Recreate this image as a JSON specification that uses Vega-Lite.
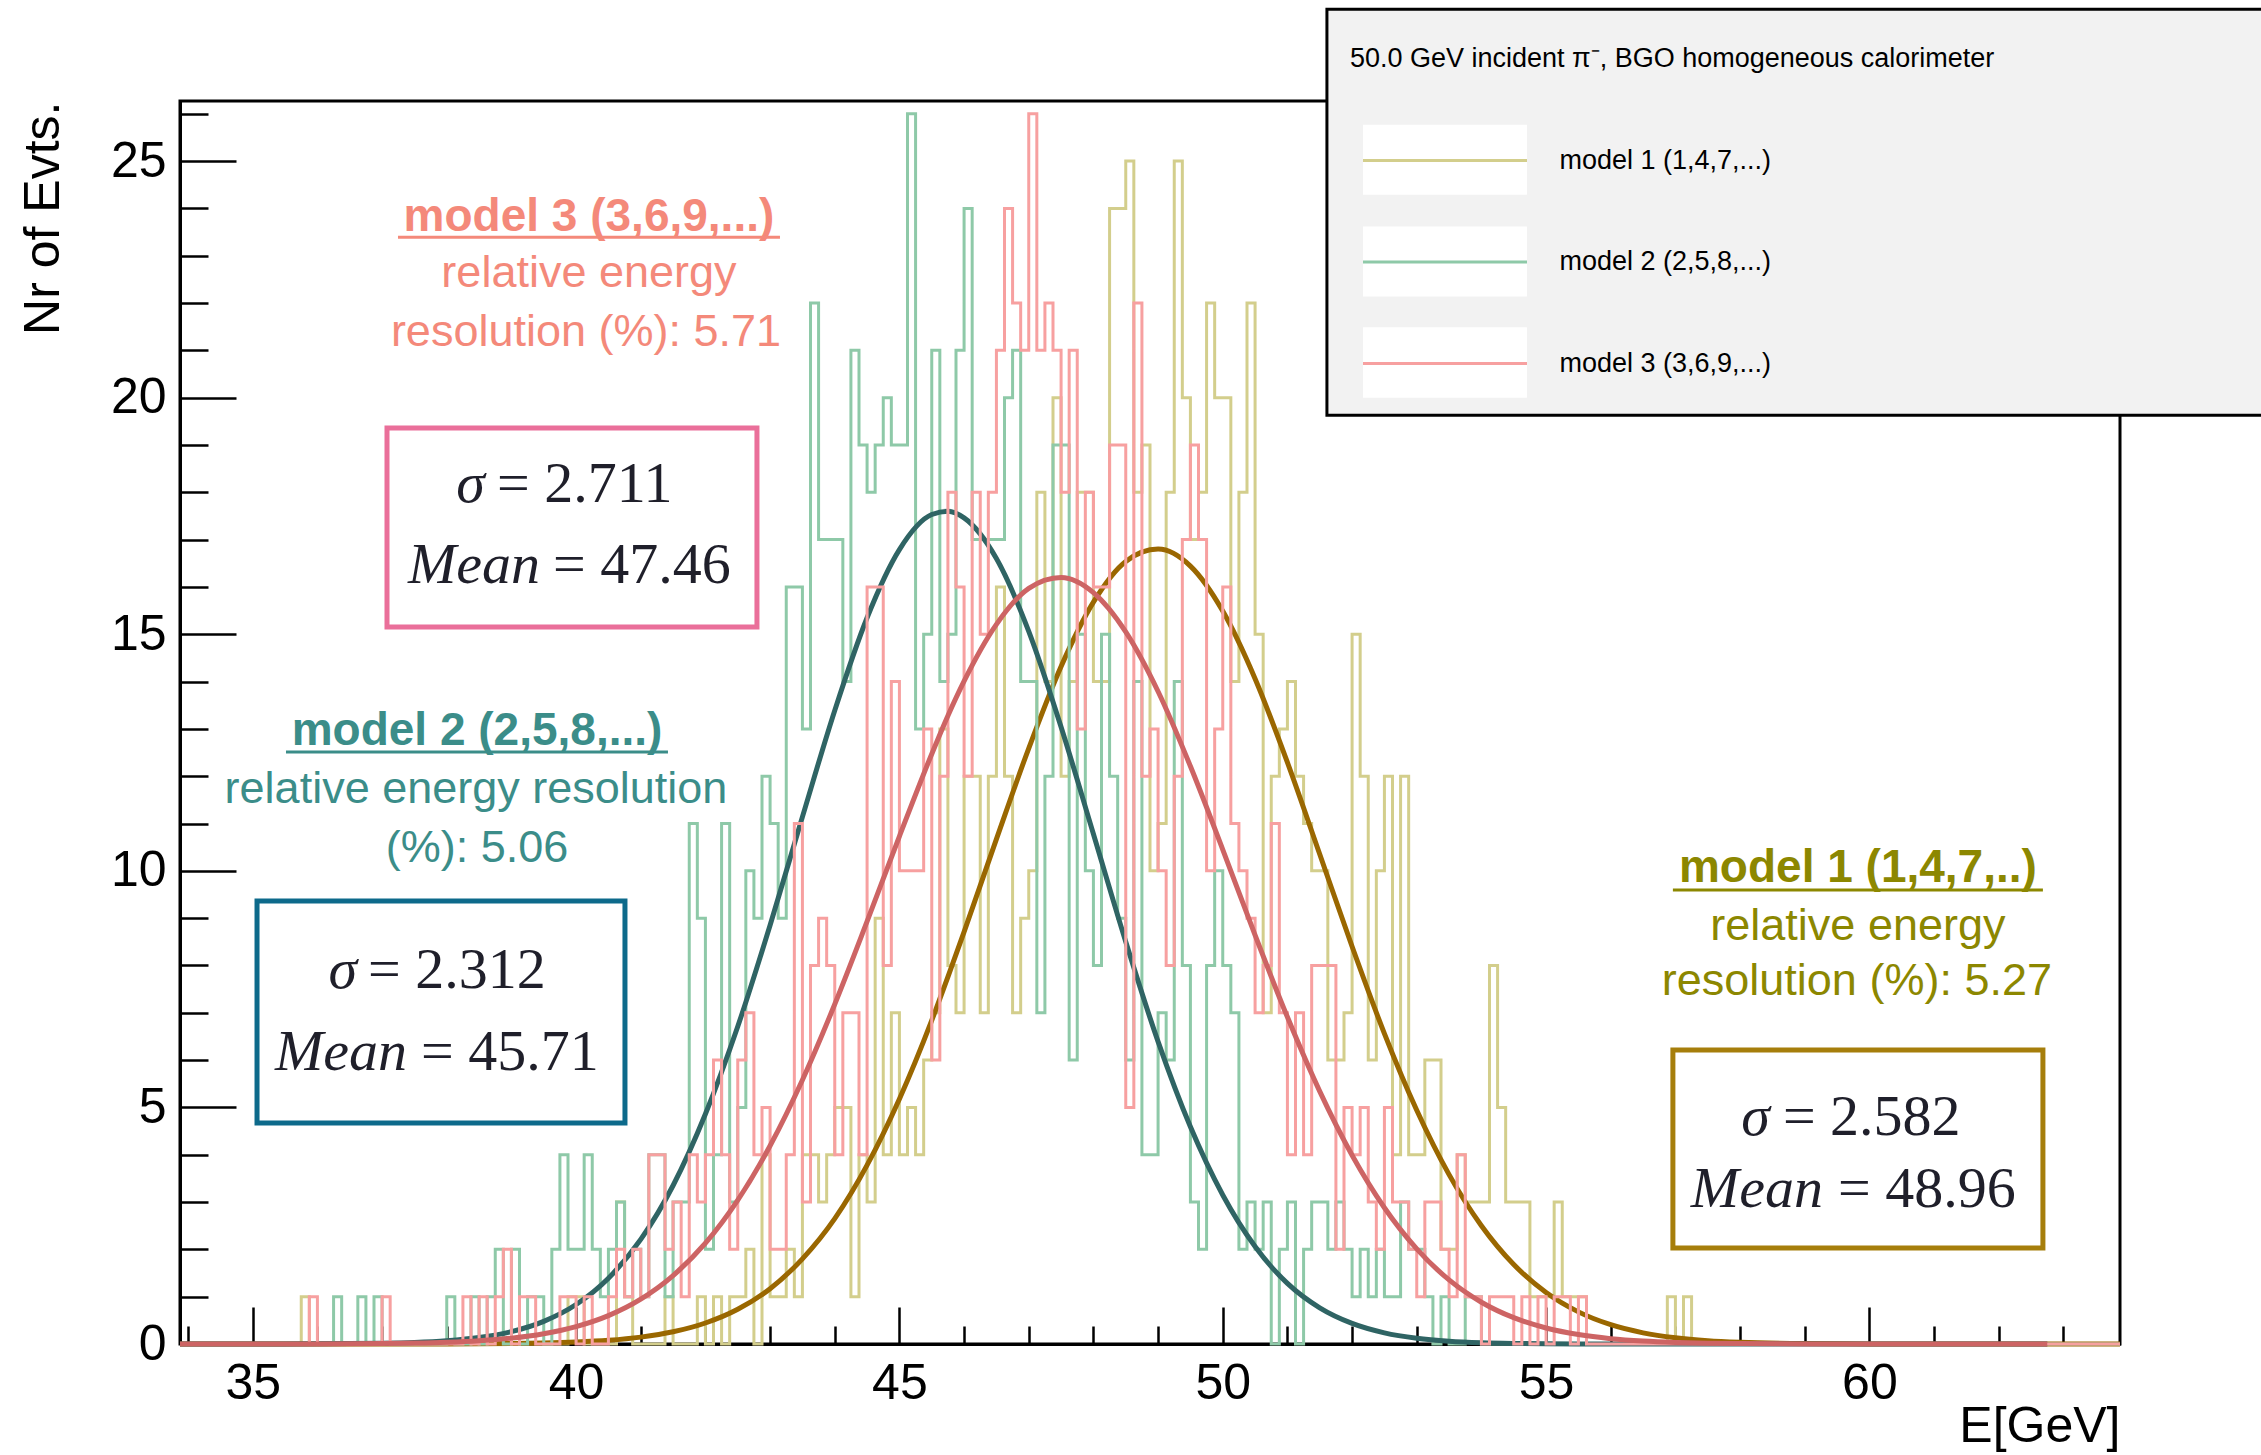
{
"$schema":"https://vega.github.io/schema/vega-lite/v6.json",
"width":1940,"height":1243,
"autosize":{"type":"none"},
"padding":{"left":180,"top":101,"right":141,"bottom":111},
"background":"white",
"config":{
 "view":{"stroke":"black","strokeWidth":3},
 "axis":{"grid":false,"domainColor":"black","domainWidth":3,"tickColor":"black","tickWidth":2.5,"labelColor":"black","labelFont":"Liberation Sans","labelFontSize":50,"titleFont":"Liberation Sans","titleFontSize":50,"titleFontWeight":"normal","titleColor":"black","labelFlush":false,"labelOverlap":false},
 "legend":{"orient":"none","legendX":1181.5,"legendY":-24,"symbolType":"stroke","symbolSize":26896,"symbolStrokeWidth":3,"labelFont":"Liberation Sans","labelFontSize":27,"labelColor":"black","labelOffset":31,"rowPadding":4.5,"padding":0,"labelLimit":600}
},
"datasets":{
"hist":[
{"E":33.875,"m1":0,"m2":0,"m3":0},{"E":34,"m1":0,"m2":0,"m3":0},{"E":34.125,"m1":0,"m2":0,"m3":0},{"E":34.25,"m1":0,"m2":0,"m3":0},{"E":34.375,"m1":0,"m2":0,"m3":0},{"E":34.5,"m1":0,"m2":0,"m3":0},{"E":34.625,"m1":0,"m2":0,"m3":0},{"E":34.75,"m1":0,"m2":0,"m3":0},{"E":34.875,"m1":0,"m2":0,"m3":0},{"E":35,"m1":0,"m2":0,"m3":0},
{"E":35.125,"m1":0,"m2":0,"m3":0},{"E":35.25,"m1":0,"m2":0,"m3":0},{"E":35.375,"m1":0,"m2":0,"m3":0},{"E":35.5,"m1":0,"m2":0,"m3":0},{"E":35.625,"m1":0,"m2":0,"m3":0},{"E":35.75,"m1":1,"m2":0,"m3":0},{"E":35.875,"m1":0,"m2":0,"m3":1},{"E":36,"m1":0,"m2":0,"m3":0},{"E":36.125,"m1":0,"m2":0,"m3":0},{"E":36.25,"m1":0,"m2":1,"m3":0},
{"E":36.375,"m1":0,"m2":0,"m3":0},{"E":36.5,"m1":0,"m2":0,"m3":0},{"E":36.625,"m1":0,"m2":1,"m3":0},{"E":36.75,"m1":0,"m2":0,"m3":0},{"E":36.875,"m1":0,"m2":1,"m3":0},{"E":37,"m1":0,"m2":0,"m3":1},{"E":37.125,"m1":0,"m2":0,"m3":0},{"E":37.25,"m1":0,"m2":0,"m3":0},{"E":37.375,"m1":0,"m2":0,"m3":0},{"E":37.5,"m1":0,"m2":0,"m3":0},
{"E":37.625,"m1":0,"m2":0,"m3":0},{"E":37.75,"m1":0,"m2":0,"m3":0},{"E":37.875,"m1":0,"m2":0,"m3":0},{"E":38,"m1":0,"m2":1,"m3":0},{"E":38.125,"m1":0,"m2":0,"m3":0},{"E":38.25,"m1":0,"m2":0,"m3":1},{"E":38.375,"m1":0,"m2":1,"m3":0},{"E":38.5,"m1":0,"m2":0,"m3":1},{"E":38.625,"m1":0,"m2":1,"m3":0},{"E":38.75,"m1":0,"m2":2,"m3":1},
{"E":38.875,"m1":0,"m2":0,"m3":2},{"E":39,"m1":0,"m2":2,"m3":0},{"E":39.125,"m1":0,"m2":0,"m3":1},{"E":39.25,"m1":0,"m2":1,"m3":1},{"E":39.375,"m1":0,"m2":1,"m3":0},{"E":39.5,"m1":0,"m2":0,"m3":0},{"E":39.625,"m1":0,"m2":2,"m3":0},{"E":39.75,"m1":0,"m2":4,"m3":1},{"E":39.875,"m1":1,"m2":2,"m3":1},{"E":40,"m1":1,"m2":2,"m3":0},
{"E":40.125,"m1":0,"m2":4,"m3":1},{"E":40.25,"m1":0,"m2":2,"m3":0},{"E":40.375,"m1":0,"m2":1,"m3":0},{"E":40.5,"m1":0,"m2":2,"m3":1},{"E":40.625,"m1":3,"m2":3,"m3":2},{"E":40.75,"m1":1,"m2":1,"m3":1},{"E":40.875,"m1":0,"m2":2,"m3":2},{"E":41,"m1":0,"m2":1,"m3":1},{"E":41.125,"m1":0,"m2":4,"m3":4},{"E":41.25,"m1":0,"m2":4,"m3":4},
{"E":41.375,"m1":1,"m2":1,"m3":2},{"E":41.5,"m1":0,"m2":3,"m3":3},{"E":41.625,"m1":0,"m2":3,"m3":1},{"E":41.75,"m1":0,"m2":11,"m3":4},{"E":41.875,"m1":1,"m2":9,"m3":3},{"E":42,"m1":0,"m2":2,"m3":4},{"E":42.125,"m1":1,"m2":4,"m3":6},{"E":42.25,"m1":0,"m2":11,"m3":4},{"E":42.375,"m1":1,"m2":3,"m3":2},{"E":42.5,"m1":1,"m2":5,"m3":6},
{"E":42.625,"m1":2,"m2":10,"m3":7},{"E":42.75,"m1":0,"m2":9,"m3":4},{"E":42.875,"m1":4,"m2":12,"m3":5},{"E":43,"m1":1,"m2":11,"m3":2},{"E":43.125,"m1":1,"m2":9,"m3":2},{"E":43.25,"m1":2,"m2":16,"m3":4},{"E":43.375,"m1":1,"m2":16,"m3":11},{"E":43.5,"m1":4,"m2":13,"m3":3},{"E":43.625,"m1":4,"m2":22,"m3":8},{"E":43.75,"m1":3,"m2":17,"m3":9},
{"E":43.875,"m1":4,"m2":17,"m3":8},{"E":44,"m1":5,"m2":17,"m3":4},{"E":44.125,"m1":5,"m2":14,"m3":7},{"E":44.25,"m1":1,"m2":21,"m3":7},{"E":44.375,"m1":4,"m2":19,"m3":4},{"E":44.5,"m1":3,"m2":18,"m3":16},{"E":44.625,"m1":9,"m2":19,"m3":16},{"E":44.75,"m1":4,"m2":20,"m3":8},{"E":44.875,"m1":7,"m2":19,"m3":14},{"E":45,"m1":4,"m2":19,"m3":10},
{"E":45.125,"m1":5,"m2":26,"m3":10},{"E":45.25,"m1":4,"m2":13,"m3":10},{"E":45.375,"m1":6,"m2":15,"m3":13},{"E":45.5,"m1":7,"m2":21,"m3":6},{"E":45.625,"m1":13,"m2":14,"m3":12},{"E":45.75,"m1":8,"m2":15,"m3":18},{"E":45.875,"m1":7,"m2":21,"m3":16},{"E":46,"m1":12,"m2":24,"m3":12},{"E":46.125,"m1":12,"m2":17,"m3":18},{"E":46.25,"m1":7,"m2":17,"m3":15},
{"E":46.375,"m1":12,"m2":17,"m3":18},{"E":46.5,"m1":16,"m2":17,"m3":21},{"E":46.625,"m1":12,"m2":20,"m3":24},{"E":46.75,"m1":7,"m2":21,"m3":22},{"E":46.875,"m1":9,"m2":14,"m3":21},{"E":47,"m1":10,"m2":14,"m3":26},{"E":47.125,"m1":18,"m2":7,"m3":21},{"E":47.25,"m1":14,"m2":12,"m3":22},{"E":47.375,"m1":20,"m2":19,"m3":21},{"E":47.5,"m1":12,"m2":19,"m3":18},
{"E":47.625,"m1":14,"m2":6,"m3":21},{"E":47.75,"m1":18,"m2":15,"m3":13},{"E":47.875,"m1":18,"m2":10,"m3":18},{"E":48,"m1":14,"m2":8,"m3":16},{"E":48.125,"m1":14,"m2":15,"m3":16},{"E":48.25,"m1":24,"m2":12,"m3":19},{"E":48.375,"m1":24,"m2":9,"m3":19},{"E":48.5,"m1":25,"m2":6,"m3":5},{"E":48.625,"m1":18,"m2":14,"m3":22},{"E":48.75,"m1":19,"m2":4,"m3":12},
{"E":48.875,"m1":10,"m2":4,"m3":13},{"E":49,"m1":11,"m2":7,"m3":10},{"E":49.125,"m1":18,"m2":6,"m3":8},{"E":49.25,"m1":25,"m2":14,"m3":12},{"E":49.375,"m1":20,"m2":8,"m3":17},{"E":49.5,"m1":17,"m2":3,"m3":19},{"E":49.625,"m1":18,"m2":2,"m3":17},{"E":49.75,"m1":22,"m2":8,"m3":10},{"E":49.875,"m1":20,"m2":10,"m3":13},{"E":50,"m1":20,"m2":8,"m3":16},
{"E":50.125,"m1":14,"m2":7,"m3":11},{"E":50.25,"m1":18,"m2":2,"m3":10},{"E":50.375,"m1":22,"m2":3,"m3":9},{"E":50.5,"m1":15,"m2":2,"m3":7},{"E":50.625,"m1":7,"m2":3,"m3":8},{"E":50.75,"m1":12,"m2":0,"m3":11},{"E":50.875,"m1":13,"m2":2,"m3":7},{"E":51,"m1":14,"m2":3,"m3":4},{"E":51.125,"m1":12,"m2":0,"m3":7},{"E":51.25,"m1":11,"m2":2,"m3":4},
{"E":51.375,"m1":10,"m2":3,"m3":8},{"E":51.5,"m1":10,"m2":3,"m3":8},{"E":51.625,"m1":6,"m2":2,"m3":8},{"E":51.75,"m1":6,"m2":3,"m3":2},{"E":51.875,"m1":7,"m2":2,"m3":5},{"E":52,"m1":15,"m2":1,"m3":4},{"E":52.125,"m1":12,"m2":2,"m3":5},{"E":52.25,"m1":6,"m2":1,"m3":3},{"E":52.375,"m1":10,"m2":2,"m3":2},{"E":52.5,"m1":12,"m2":1,"m3":5},
{"E":52.625,"m1":4,"m2":1,"m3":3},{"E":52.75,"m1":12,"m2":3,"m3":3},{"E":52.875,"m1":4,"m2":2,"m3":2},{"E":53,"m1":4,"m2":2,"m3":1},{"E":53.125,"m1":6,"m2":1,"m3":3},{"E":53.25,"m1":6,"m2":0,"m3":3},{"E":53.375,"m1":2,"m2":1,"m3":2},{"E":53.5,"m1":2,"m2":0,"m3":1},{"E":53.625,"m1":4,"m2":0,"m3":4},{"E":53.75,"m1":3,"m2":1,"m3":1},
{"E":53.875,"m1":3,"m2":1,"m3":1},{"E":54,"m1":3,"m2":0,"m3":0},{"E":54.125,"m1":8,"m2":0,"m3":1},{"E":54.25,"m1":5,"m2":0,"m3":1},{"E":54.375,"m1":3,"m2":0,"m3":1},{"E":54.5,"m1":3,"m2":0,"m3":0},{"E":54.625,"m1":3,"m2":0,"m3":1},{"E":54.75,"m1":1,"m2":0,"m3":0},{"E":54.875,"m1":1,"m2":0,"m3":1},{"E":55,"m1":1,"m2":0,"m3":0},
{"E":55.125,"m1":3,"m2":0,"m3":1},{"E":55.25,"m1":1,"m2":0,"m3":1},{"E":55.375,"m1":1,"m2":0,"m3":0},{"E":55.5,"m1":1,"m2":0,"m3":1},{"E":55.625,"m1":0,"m2":0,"m3":0},{"E":55.75,"m1":0,"m2":0,"m3":0},{"E":55.875,"m1":0,"m2":0,"m3":0},{"E":56,"m1":0,"m2":0,"m3":0},{"E":56.125,"m1":0,"m2":0,"m3":0},{"E":56.25,"m1":0,"m2":0,"m3":0},
{"E":56.375,"m1":0,"m2":0,"m3":0},{"E":56.5,"m1":0,"m2":0,"m3":0},{"E":56.625,"m1":0,"m2":0,"m3":0},{"E":56.75,"m1":0,"m2":0,"m3":0},{"E":56.875,"m1":1,"m2":0,"m3":0},{"E":57,"m1":0,"m2":0,"m3":0},{"E":57.125,"m1":1,"m2":0,"m3":0},{"E":57.25,"m1":0,"m2":0,"m3":0},{"E":57.375,"m1":0,"m2":0,"m3":0},{"E":57.5,"m1":0,"m2":0,"m3":0},
{"E":57.625,"m1":0,"m2":0,"m3":0},{"E":57.75,"m1":0,"m2":0,"m3":0},{"E":57.875,"m1":0,"m2":0,"m3":0},{"E":58,"m1":0,"m2":0,"m3":0},{"E":58.125,"m1":0,"m2":0,"m3":0},{"E":58.25,"m1":0,"m2":0,"m3":0},{"E":58.375,"m1":0,"m2":0,"m3":0},{"E":58.5,"m1":0,"m2":0,"m3":0},{"E":58.625,"m1":0,"m2":0,"m3":0},{"E":58.75,"m1":0,"m2":0,"m3":0},
{"E":58.875,"m1":0,"m2":0,"m3":0},{"E":59,"m1":0,"m2":0,"m3":0},{"E":59.125,"m1":0,"m2":0,"m3":0},{"E":59.25,"m1":0,"m2":0,"m3":0},{"E":59.375,"m1":0,"m2":0,"m3":0},{"E":59.5,"m1":0,"m2":0,"m3":0},{"E":59.625,"m1":0,"m2":0,"m3":0},{"E":59.75,"m1":0,"m2":0,"m3":0},{"E":59.875,"m1":0,"m2":0,"m3":0},{"E":60,"m1":0,"m2":0,"m3":0},
{"E":60.125,"m1":0,"m2":0,"m3":0},{"E":60.25,"m1":0,"m2":0,"m3":0},{"E":60.375,"m1":0,"m2":0,"m3":0},{"E":60.5,"m1":0,"m2":0,"m3":0},{"E":60.625,"m1":0,"m2":0,"m3":0},{"E":60.75,"m1":0,"m2":0,"m3":0},{"E":60.875,"m1":0,"m2":0,"m3":0},{"E":61,"m1":0,"m2":0,"m3":0},{"E":61.125,"m1":0,"m2":0,"m3":0},{"E":61.25,"m1":0,"m2":0,"m3":0},
{"E":61.375,"m1":0,"m2":0,"m3":0},{"E":61.5,"m1":0,"m2":0,"m3":0},{"E":61.625,"m1":0,"m2":0,"m3":0},{"E":61.75,"m1":0,"m2":0,"m3":0},{"E":61.875,"m1":0,"m2":0,"m3":0},{"E":62,"m1":0,"m2":0,"m3":0},{"E":62.125,"m1":0,"m2":0,"m3":0},{"E":62.25,"m1":0,"m2":0,"m3":0},{"E":62.375,"m1":0,"m2":0,"m3":0},{"E":62.5,"m1":0,"m2":0,"m3":0},
{"E":62.625,"m1":0,"m2":0,"m3":0},{"E":62.75,"m1":0,"m2":0,"m3":0},{"E":62.875,"m1":0,"m2":0,"m3":0},{"E":63,"m1":0,"m2":0,"m3":0},{"E":63.125,"m1":0,"m2":0,"m3":0},{"E":63.25,"m1":0,"m2":0,"m3":0},{"E":63.375,"m1":0,"m2":0,"m3":0},{"E":63.5,"m1":0,"m2":0,"m3":0},{"E":63.625,"m1":0,"m2":0,"m3":0},{"E":63.75,"m1":0,"m2":0,"m3":0},
{"E":63.875,"m1":0,"m2":0,"m3":0}
],
"fit":[
{"E":33.875,"g1":0,"g2":0,"g3":0},{"E":35,"g1":0,"g2":0.0004,"g3":0.0004},{"E":36,"g1":0.0001,"g2":0.003,"g3":0.002},{"E":37,"g1":0.0004,"g2":0.015,"g3":0.0095},{"E":37.5,"g1":0.0009,"g2":0.032,"g3":0.019},{"E":38,"g1":0.002,"g2":0.068,"g3":0.037},{"E":38.5,"g1":0.0046,"g2":0.136,"g3":0.069},{"E":39,"g1":0.0099,"g2":0.261,"g3":0.124},{"E":39.5,"g1":0.02,"g2":0.478,"g3":0.218},{"E":40,"g1":0.041,"g2":0.834,"g3":0.368},
{"E":40.5,"g1":0.078,"g2":1.39,"g3":0.6},{"E":41,"g1":0.145,"g2":2.21,"g3":0.948},{"E":41.5,"g1":0.258,"g2":3.35,"g3":1.446},{"E":42,"g1":0.444,"g2":4.86,"g3":2.13},{"E":42.5,"g1":0.734,"g2":6.71,"g3":3.04},{"E":43,"g1":1.169,"g2":8.85,"g3":4.19},{"E":43.5,"g1":1.8,"g2":11.14,"g3":5.58},{"E":44,"g1":2.65,"g2":13.39,"g3":7.18},{"E":44.5,"g1":3.78,"g2":15.35,"g3":8.93},{"E":45,"g1":5.18,"g2":16.79,"g3":10.73},
{"E":45.5,"g1":6.84,"g2":17.53,"g3":12.47},{"E":45.75,"g1":7.76,"g2":17.6,"g3":13.28},{"E":46,"g1":8.71,"g2":17.46,"g3":14.01},{"E":46.5,"g1":10.67,"g2":16.6,"g3":15.21},{"E":47,"g1":12.59,"g2":15.06,"g3":15.97},{"E":47.5,"g1":14.32,"g2":13.04,"g3":16.2},{"E":48,"g1":15.68,"g2":10.78,"g3":15.88},{"E":48.5,"g1":16.54,"g2":8.5,"g3":15.05},{"E":49,"g1":16.8,"g2":6.39,"g3":13.79},{"E":49.5,"g1":16.44,"g2":4.59,"g3":12.21},
{"E":50,"g1":15.49,"g2":3.15,"g3":10.45},{"E":50.5,"g1":14.06,"g2":2.06,"g3":8.64},{"E":51,"g1":12.29,"g2":1.28,"g3":6.91},{"E":51.5,"g1":10.35,"g2":0.764,"g3":5.34},{"E":52,"g1":8.4,"g2":0.435,"g3":3.99},{"E":52.5,"g1":6.56,"g2":0.236,"g3":2.88},{"E":53,"g1":4.94,"g2":0.122,"g3":2.01},{"E":53.5,"g1":3.58,"g2":0.06,"g3":1.354},{"E":54,"g1":2.5,"g2":0.028,"g3":0.883},{"E":54.5,"g1":1.68,"g2":0.0128,"g3":0.556},
{"E":55,"g1":1.088,"g2":0.0055,"g3":0.339},{"E":55.5,"g1":0.679,"g2":0.0023,"g3":0.199},{"E":56,"g1":0.408,"g2":0.0009,"g3":0.113},{"E":56.5,"g1":0.236,"g2":0.0003,"g3":0.062},{"E":57,"g1":0.132,"g2":0.0001,"g3":0.033},{"E":57.5,"g1":0.071,"g2":0,"g3":0.017},{"E":58,"g1":0.037,"g2":0,"g3":0.0085},{"E":59,"g1":0.0088,"g2":0,"g3":0.0019},{"E":60,"g1":0.0018,"g2":0,"g3":0.0004},{"E":62,"g1":0,"g2":0,"g3":0},
{"E":62.75,"g1":0,"g2":0,"g3":0},{"E":63.875,"g1":0,"g2":null,"g3":null}
]
},
"layer":[
{"data":{"name":"hist"},"mark":{"type":"line","interpolate":"step-after","strokeWidth":3},
 "encoding":{
  "x":{"field":"E","type":"quantitative","title":"E[GeV]","scale":{"domain":[33.875,63.875],"nice":false,"zero":false},
   "axis":{"title":"E[GeV]","titleAnchor":"end","titlePadding":-26,"format":"d","values":[34,35,36,37,38,39,40,41,42,43,44,45,46,47,48,49,50,51,52,53,54,55,56,57,58,59,60,61,62,63],"labelExpr":"datum.value % 5 === 0 ? datum.label : ''","tickSize":{"condition":{"test":"datum.value % 5 === 0","value":-37},"value":-18},"labelPadding":51}},
  "y":{"field":"m1","type":"quantitative","title":"Nr of Evts.","scale":{"domain":[0,26.27],"nice":false},
   "axis":{"title":"Nr of Evts.","titleAnchor":"end","titlePadding":42,"format":"d","values":[0,1,2,3,4,5,6,7,8,9,10,11,12,13,14,15,16,17,18,19,20,21,22,23,24,25,26],"labelExpr":"datum.value % 5 === 0 ? datum.label : ''","tickSize":{"condition":{"test":"datum.value % 5 === 0","value":-56},"value":-28},"labelPadding":70}},
  "color":{"datum":"model 1 (1,4,7,...)","scale":{"domain":["model 1 (1,4,7,...)","model 2 (2,5,8,...)","model 3 (3,6,9,...)"],"range":["#d3ce8c","#8ec9a8","#f7a0a0"]},"legend":{"title":null}}
 }},
{"data":{"name":"fit"},"mark":{"type":"line","interpolate":"monotone","strokeWidth":5,"color":"#9a6700"},
 "encoding":{"x":{"field":"E","type":"quantitative"},"y":{"field":"g1","type":"quantitative"}}},
{"data":{"name":"hist"},"mark":{"type":"line","interpolate":"step-after","strokeWidth":3},
 "encoding":{"x":{"field":"E","type":"quantitative"},"y":{"field":"m2","type":"quantitative"},"color":{"datum":"model 2 (2,5,8,...)","legend":{"title":null}}}},
{"data":{"name":"fit"},"mark":{"type":"line","interpolate":"monotone","strokeWidth":5,"color":"#2f6464"},
 "encoding":{"x":{"field":"E","type":"quantitative"},"y":{"field":"g2","type":"quantitative"}}},
{"data":{"name":"hist"},"mark":{"type":"line","interpolate":"step-after","strokeWidth":3},
 "encoding":{"x":{"field":"E","type":"quantitative"},"y":{"field":"m3","type":"quantitative"},"color":{"datum":"model 3 (3,6,9,...)","legend":{"title":null}}}},
{"data":{"name":"fit"},"mark":{"type":"line","interpolate":"monotone","strokeWidth":5,"color":"#cd6464"},
 "encoding":{"x":{"field":"E","type":"quantitative"},"y":{"field":"g3","type":"quantitative"}}},

{"data":{"values":[{}]},"mark":{"type":"rect","fill":"#f2f2f2","stroke":"black","strokeWidth":3},
 "encoding":{"x":{"datum":51.611},"x2":{"datum":66.3},"y":{"datum":28.21},"y2":{"datum":19.63}}},
{"data":{"values":[{}]},"mark":{"type":"rect","fill":"white"},
 "encoding":{"x":{"datum":52.168},"x2":{"datum":54.704},"y":{"datum":25.77},"y2":{"datum":24.29}}},
{"data":{"values":[{}]},"mark":{"type":"rect","fill":"white"},
 "encoding":{"x":{"datum":52.168},"x2":{"datum":54.704},"y":{"datum":23.62},"y2":{"datum":22.14}}},
{"data":{"values":[{}]},"mark":{"type":"rect","fill":"white"},
 "encoding":{"x":{"datum":52.168},"x2":{"datum":54.704},"y":{"datum":21.49},"y2":{"datum":20.0}}},
{"data":{"values":[{}]},"mark":{"type":"text","text":"50.0 GeV incident π⁻, BGO homogeneous calorimeter","font":"Liberation Sans","fontSize":27,"color":"black","align":"left","baseline":"alphabetic"},
 "encoding":{"x":{"datum":51.966},"y":{"datum":26.99}}},

{"data":{"values":[{}]},"mark":{"type":"text","text":"model 3 (3,6,9,...)","font":"Liberation Sans","fontWeight":"bold","fontSize":46,"color":"#f4897a","align":"center","baseline":"alphabetic"},
 "encoding":{"x":{"datum":40.199},"y":{"datum":23.52}}},
{"data":{"values":[{}]},"mark":{"type":"rule","strokeWidth":3,"color":"#f4897a"},
 "encoding":{"x":{"datum":37.246},"x2":{"datum":43.153},"y":{"datum":23.39}}},
{"data":{"values":[{}]},"mark":{"type":"text","text":"relative energy","font":"Liberation Sans","fontSize":45,"color":"#f4897a","align":"center","baseline":"alphabetic"},
 "encoding":{"x":{"datum":40.199},"y":{"datum":22.34}}},
{"data":{"values":[{}]},"mark":{"type":"text","text":"resolution (%): 5.71","font":"Liberation Sans","fontSize":45,"color":"#f4897a","align":"center","baseline":"alphabetic"},
 "encoding":{"x":{"datum":40.153},"y":{"datum":21.09}}},
{"data":{"values":[{}]},"mark":{"type":"rect","fill":"white","stroke":"#ea6f9a","strokeWidth":5},
 "encoding":{"x":{"datum":37.076},"x2":{"datum":42.797},"y":{"datum":19.357},"y2":{"datum":15.152}}},
{"data":{"values":[{}]},"mark":{"type":"text","text":"σ","font":"Liberation Serif","fontStyle":"italic","fontSize":58,"color":"#1f1f2a","align":"right","baseline":"alphabetic"},
 "encoding":{"x":{"datum":38.591},"y":{"datum":17.79}}},
{"data":{"values":[{}]},"mark":{"type":"text","text":"= 2.711","font":"Liberation Serif","fontSize":58,"color":"#1f1f2a","align":"left","baseline":"alphabetic"},
 "encoding":{"x":{"datum":38.777},"y":{"datum":17.79}}},
{"data":{"values":[{}]},"mark":{"type":"text","text":"Mean","font":"Liberation Serif","fontStyle":"italic","fontSize":58,"color":"#1f1f2a","align":"right","baseline":"alphabetic"},
 "encoding":{"x":{"datum":39.442},"y":{"datum":16.08}}},
{"data":{"values":[{}]},"mark":{"type":"text","text":"= 47.46","font":"Liberation Serif","fontSize":58,"color":"#1f1f2a","align":"left","baseline":"alphabetic"},
 "encoding":{"x":{"datum":39.643},"y":{"datum":16.08}}},

{"data":{"values":[{}]},"mark":{"type":"text","text":"model 2 (2,5,8,...)","font":"Liberation Sans","fontWeight":"bold","fontSize":46,"color":"#3b8d89","align":"center","baseline":"alphabetic"},
 "encoding":{"x":{"datum":38.468},"y":{"datum":12.66}}},
{"data":{"values":[{}]},"mark":{"type":"rule","strokeWidth":3,"color":"#3b8d89"},
 "encoding":{"x":{"datum":35.514},"x2":{"datum":41.421},"y":{"datum":12.51}}},
{"data":{"values":[{}]},"mark":{"type":"text","text":"relative energy resolution","font":"Liberation Sans","fontSize":45,"color":"#3b8d89","align":"center","baseline":"alphabetic"},
 "encoding":{"x":{"datum":38.452},"y":{"datum":11.43}}},
{"data":{"values":[{}]},"mark":{"type":"text","text":"(%): 5.06","font":"Liberation Sans","fontSize":45,"color":"#3b8d89","align":"center","baseline":"alphabetic"},
 "encoding":{"x":{"datum":38.468},"y":{"datum":10.19}}},
{"data":{"values":[{}]},"mark":{"type":"rect","fill":"white","stroke":"#0d6a8b","strokeWidth":5},
 "encoding":{"x":{"datum":35.066},"x2":{"datum":40.756},"y":{"datum":9.362},"y2":{"datum":4.67}}},
{"data":{"values":[{}]},"mark":{"type":"text","text":"σ","font":"Liberation Serif","fontStyle":"italic","fontSize":58,"color":"#1f1f2a","align":"right","baseline":"alphabetic"},
 "encoding":{"x":{"datum":36.612},"y":{"datum":7.523}}},
{"data":{"values":[{}]},"mark":{"type":"text","text":"= 2.312","font":"Liberation Serif","fontSize":58,"color":"#1f1f2a","align":"left","baseline":"alphabetic"},
 "encoding":{"x":{"datum":36.782},"y":{"datum":7.523}}},
{"data":{"values":[{}]},"mark":{"type":"text","text":"Mean","font":"Liberation Serif","fontStyle":"italic","fontSize":58,"color":"#1f1f2a","align":"right","baseline":"alphabetic"},
 "encoding":{"x":{"datum":37.385},"y":{"datum":5.79}}},
{"data":{"values":[{}]},"mark":{"type":"text","text":"= 45.71","font":"Liberation Serif","fontSize":58,"color":"#1f1f2a","align":"left","baseline":"alphabetic"},
 "encoding":{"x":{"datum":37.602},"y":{"datum":5.79}}},

{"data":{"values":[{}]},"mark":{"type":"text","text":"model 1 (1,4,7,..)","font":"Liberation Sans","fontWeight":"bold","fontSize":46,"color":"#8c8700","align":"center","baseline":"alphabetic"},
 "encoding":{"x":{"datum":59.822},"y":{"datum":9.763}}},
{"data":{"values":[{}]},"mark":{"type":"rule","strokeWidth":3,"color":"#8c8700"},
 "encoding":{"x":{"datum":56.961},"x2":{"datum":62.683},"y":{"datum":9.594}}},
{"data":{"values":[{}]},"mark":{"type":"text","text":"relative energy","font":"Liberation Sans","fontSize":45,"color":"#8c8700","align":"center","baseline":"alphabetic"},
 "encoding":{"x":{"datum":59.822},"y":{"datum":8.538}}},
{"data":{"values":[{}]},"mark":{"type":"text","text":"resolution (%): 5.27","font":"Liberation Sans","fontSize":45,"color":"#8c8700","align":"center","baseline":"alphabetic"},
 "encoding":{"x":{"datum":59.806},"y":{"datum":7.375}}},
{"data":{"values":[{}]},"mark":{"type":"rect","fill":"white","stroke":"#a67e0b","strokeWidth":5},
 "encoding":{"x":{"datum":56.961},"x2":{"datum":62.683},"y":{"datum":6.213},"y2":{"datum":2.029}}},
{"data":{"values":[{}]},"mark":{"type":"text","text":"σ","font":"Liberation Serif","fontStyle":"italic","fontSize":58,"color":"#1f1f2a","align":"right","baseline":"alphabetic"},
 "encoding":{"x":{"datum":58.461},"y":{"datum":4.417}}},
{"data":{"values":[{}]},"mark":{"type":"text","text":"= 2.582","font":"Liberation Serif","fontSize":58,"color":"#1f1f2a","align":"left","baseline":"alphabetic"},
 "encoding":{"x":{"datum":58.662},"y":{"datum":4.417}}},
{"data":{"values":[{}]},"mark":{"type":"text","text":"Mean","font":"Liberation Serif","fontStyle":"italic","fontSize":58,"color":"#1f1f2a","align":"right","baseline":"alphabetic"},
 "encoding":{"x":{"datum":59.281},"y":{"datum":2.895}}},
{"data":{"values":[{}]},"mark":{"type":"text","text":"= 48.96","font":"Liberation Serif","fontSize":58,"color":"#1f1f2a","align":"left","baseline":"alphabetic"},
 "encoding":{"x":{"datum":59.513},"y":{"datum":2.895}}}
]
}
